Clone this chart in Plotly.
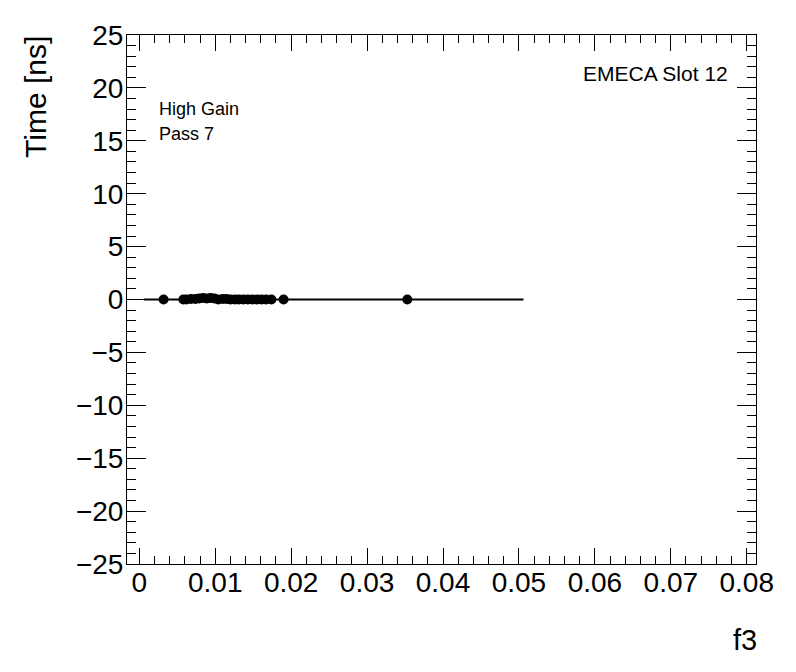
import plotly.graph_objects as go

# Data
f3_values = [0.0032, 0.0058, 0.0062, 0.0068, 0.0074, 0.0079, 0.0084, 0.0089,
             0.0094, 0.0099, 0.0104, 0.0110, 0.0115, 0.0120, 0.0126, 0.0131,
             0.0137, 0.0143, 0.0149, 0.0155, 0.0161, 0.0167, 0.0174, 0.0190,
             0.0353]
time_values = [0.0, 0.0, 0.0, 0.05, 0.05, 0.1, 0.15, 0.1,
               0.15, 0.1, 0.0, 0.05, 0.05, 0.0, 0.0, 0.0,
               0.0, 0.0, 0.0, 0.0, 0.0, 0.0, 0.0, 0.0,
               0.0]
fit_x = [0.0006, 0.0506]
fit_y = [0.0, 0.0]

x_tick_vals = [0, 0.01, 0.02, 0.03, 0.04, 0.05, 0.06, 0.07, 0.08]
x_tick_text = ["0", "0.01", "0.02", "0.03", "0.04", "0.05", "0.06", "0.07", "0.08"]
y_tick_vals = [-25, -20, -15, -10, -5, 0, 5, 10, 15, 20, 25]
y_tick_text = ["\u221225", "\u221220", "\u221215", "\u221210", "\u22125", "0",
               "5", "10", "15", "20", "25"]

FONT = "Liberation Sans, Arial, Helvetica, sans-serif"

fig = go.Figure()
fig.add_trace(go.Scatter(x=fit_x, y=fit_y, mode="lines",
                         line=dict(color="black", width=2), showlegend=False,
                         hoverinfo="skip"))
fig.add_trace(go.Scatter(x=f3_values, y=time_values, mode="markers",
                         marker=dict(color="black", size=10, symbol="circle"),
                         showlegend=False))

axis_common = dict(
    showgrid=False, zeroline=False, showline=True, linecolor="black",
    linewidth=1, mirror="allticks", ticks="inside", tickcolor="black",
    tickwidth=1, tickfont=dict(family=FONT, size=28, color="black"),
)

fig.update_xaxes(range=[-0.00162, 0.08122], tickvals=x_tick_vals,
                 ticktext=x_tick_text, ticklen=16, ticklabelstandoff=-7,
                 minor=dict(ticks="inside", dtick=0.002, tick0=0, ticklen=8,
                            tickcolor="black", tickwidth=1, showgrid=False),
                 **axis_common)
fig.update_yaxes(range=[-25, 25], tickvals=y_tick_vals,
                 ticktext=y_tick_text, ticklen=19, ticklabelstandoff=-3,
                 minor=dict(ticks="inside", dtick=1, tick0=0, ticklen=9,
                            tickcolor="black", tickwidth=1, showgrid=False),
                 **axis_common)

annotations = [
    dict(text="Time [ns]", xref="paper", yref="paper", x=-0.1447, y=1.002,
         xanchor="center", yanchor="top", textangle=-90, showarrow=False,
         font=dict(family=FONT, size=30, color="black")),
    dict(text="f3", xref="paper", yref="paper", x=1.004, y=-0.143,
         xanchor="right", yanchor="middle", showarrow=False,
         font=dict(family=FONT, size=29, color="black")),
    dict(text="High Gain", xref="paper", yref="paper", x=0.048, y=0.86,
         xanchor="left", yanchor="middle", showarrow=False,
         font=dict(family=FONT, size=18, color="black")),
    dict(text="Pass 7", xref="paper", yref="paper", x=0.048, y=0.813,
         xanchor="left", yanchor="middle", showarrow=False,
         font=dict(family=FONT, size=18, color="black")),
    dict(text="EMECA Slot 12", xref="paper", yref="paper", x=0.958, y=0.927,
         xanchor="right", yanchor="middle", showarrow=False,
         font=dict(family=FONT, size=21, color="black")),
]

# page body has an 8px margin, so the figure is shrunk and offset accordingly
fig.update_layout(
    width=788, height=664,
    margin=dict(l=119, r=40, t=25, b=108, pad=0),
    paper_bgcolor="white", plot_bgcolor="white",
    font=dict(family=FONT, color="black"),
    annotations=annotations,
    showlegend=False,
)

fig.write_html("out.html")
